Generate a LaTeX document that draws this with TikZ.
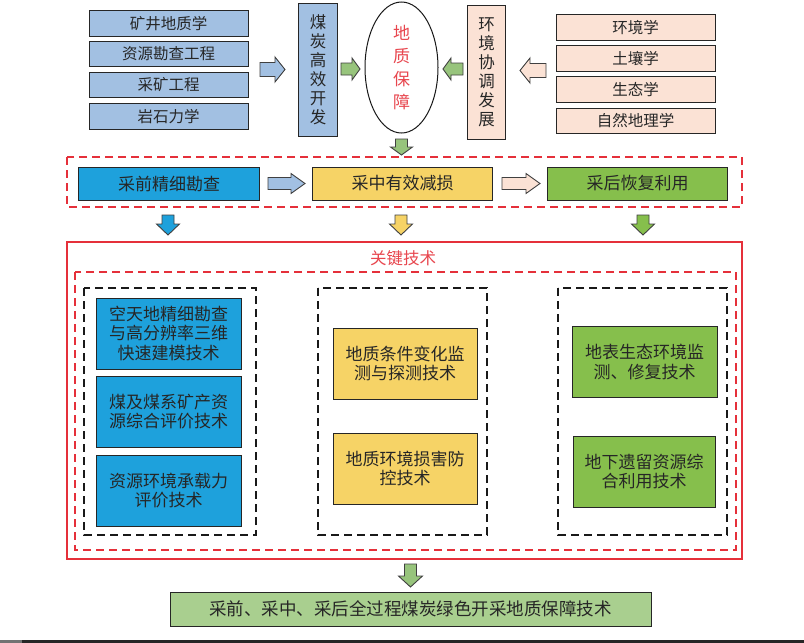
\documentclass[tikz,border=0pt]{standalone}
\usepackage{fontspec}
\setmainfont{Noto Sans CJK SC}
\usetikzlibrary{shapes.geometric}
\definecolor{lblue}{HTML}{A2C0E2}
\definecolor{lpink}{HTML}{FBE2D5}
\definecolor{lgreen}{HTML}{97C47C}
\definecolor{bblue}{HTML}{1EA1DC}
\definecolor{byellow}{HTML}{F6D366}
\definecolor{bgreen}{HTML}{86BF4C}
\definecolor{pgreen}{HTML}{A9CF8F}
\definecolor{dred}{HTML}{E5303A}
\definecolor{tred}{HTML}{E8464E}
\definecolor{txt}{HTML}{262626}
\newcommand\fatarrow[8]{\draw[#1,shift={(#2,#3)},rotate=#4] ({-#5/2},{-#7/2}) -- ({#5/2-#8},{-#7/2}) -- ({#5/2-#8},{-#6/2}) -- ({#5/2},0) -- ({#5/2-#8},{#6/2}) -- ({#5/2-#8},{#7/2}) -- ({-#5/2},{#7/2}) -- cycle;}
\begin{document}
\begin{tikzpicture}[x=1pt,y=-1pt,
  base/.style={draw=black!85, line width=1pt, inner sep=0pt, align=center, text=txt, font=\fontsize{15.5}{19}\selectfont},
  tl/.style={base, fill=lblue, minimum width=159pt, minimum height=25.5pt},
  tr/.style={base, fill=lpink, minimum width=159pt, minimum height=25.5pt},
  vbox/.style={base, font=\fontsize{16.5}{19}\selectfont, minimum width=38.5pt, minimum height=133pt},
  proc/.style={base, font=\fontsize{17}{19}\selectfont, minimum width=180.5pt, minimum height=33pt},
  tech/.style={base, font=\fontsize{17}{19.5}\selectfont, minimum width=145pt, minimum height=71pt},
  arr/.style={draw=black!75, line width=0.9pt},
  reddash/.style={draw=dred, line width=1.4pt, dash pattern=on 8pt off 5pt},
  blackdash/.style={draw=black!90, line width=1.4pt, dash pattern=on 8pt off 5pt}]
\useasboundingbox (0,0) rectangle (804,643);
\fill[white] (0,0) rectangle (804,643);
\fill[black!55] (0,640) rectangle (22,643);
\fill[black!85] (22,640) rectangle (804,643);

% top-left disciplines
\node[tl] (a1) at (168.5,23.5) {矿井地质学};
\node[tl] (a2) at (168.5,54) {资源勘查工程};
\node[tl] (a3) at (168.5,85) {采矿工程};
\node[tl] (a4) at (168.5,116.5) {岩石力学};
% top-right disciplines
\node[tr] (b1) at (635.5,27.5) {环境学};
\node[tr] (b2) at (635.5,58.5) {土壤学};
\node[tr] (b3) at (635.5,89.5) {生态学};
\node[tr] (b4) at (635.5,121) {自然地理学};

\node[vbox, fill=lblue] (coal) at (318,69.5) {煤\\炭\\高\\效\\开\\发};
\node[vbox, fill=lpink, minimum height=134pt] (env) at (486.5,72) {环\\境\\协\\调\\发\\展};
\node[ellipse, draw=black!90, line width=1pt, fill=white, minimum width=73pt, minimum height=131pt, inner sep=0pt,
      align=center, text=tred, font=\fontsize{17}{22.7}\selectfont] (geo) at (401.5,67.5) {地\\质\\保\\障};

\fatarrow{arr,fill=lblue}{272.5}{69.5}{0}{25}{25}{14}{10}
\fatarrow{arr,fill=lgreen}{350.5}{69}{0}{19}{22}{12}{8}
\fatarrow{arr,fill=lgreen}{453}{69}{180}{20}{22}{12}{8}
\fatarrow{arr,fill=lpink}{533}{70.5}{180}{26}{25}{14}{10}
\fatarrow{arr,fill=lgreen}{401.5}{147}{-90}{16}{22}{12}{8}

% process row
\draw[reddash] (67,157) rectangle (742,207);
\node[proc, fill=bblue] (p1) at (169,183.5) {采前精细勘查};
\node[proc, fill=byellow] (p2) at (402.5,183.5) {采中有效减损};
\node[proc, fill=bgreen] (p3) at (637.5,183.5) {采后恢复利用};
\fatarrow{arr,fill=lblue}{286.5}{183.5}{0}{37}{20}{12}{14}
\fatarrow{arr,fill=lpink}{521}{183.5}{0}{38}{20}{12}{14}

\fatarrow{arr,fill=bblue}{168}{225}{-90}{20}{23}{12}{11}
\fatarrow{arr,fill=byellow}{401}{225}{-90}{20}{23}{12}{11}
\fatarrow{arr,fill=bgreen}{643}{225}{-90}{20}{23}{12}{11}

% key technologies
\draw[draw=dred, line width=1.2pt] (67,242) rectangle (742,559);
\node[text=tred, font=\fontsize{16.5}{19}\selectfont, inner sep=0pt] (key) at (403,258) {关键技术};
\draw[reddash] (75,272) rectangle (736,550);
\draw[blackdash] (84,288) rectangle (256,535);
\draw[blackdash] (318,288) rectangle (487,535);
\draw[blackdash] (558,288) rectangle (727,535);

\node[tech, fill=bblue] (t1) at (168.5,333.5) {空天地精细勘查\\与高分辨率三维\\快速建模技术};
\node[tech, fill=bblue] (t2) at (168.5,411.5) {煤及煤系矿产资\\源综合评价技术};
\node[tech, fill=bblue] (t3) at (168.5,490.5) {资源环境承载力\\评价技术};
\node[tech, fill=byellow, minimum width=144pt] (t4) at (405,363.5) {地质条件变化监\\测与探测技术};
\node[tech, fill=byellow, minimum width=144pt] (t5) at (405,468.5) {地质环境损害防\\控技术};
\node[tech, fill=bgreen] (t6) at (644.5,362) {地表生态环境监\\测、修复技术};
\node[tech, fill=bgreen, minimum width=142pt] (t7) at (644,471.5) {地下遗留资源综\\合利用技术};

\fatarrow{arr,fill=lgreen}{410.5}{575.5}{-90}{23}{24}{12}{11}
\node[base, fill=pgreen, minimum width=481pt, minimum height=34pt, font=\fontsize{17.5}{20}\selectfont] (final) at (410.5,609) {采前、采中、采后全过程煤炭绿色开采地质保障技术};
\end{tikzpicture}
\end{document}
